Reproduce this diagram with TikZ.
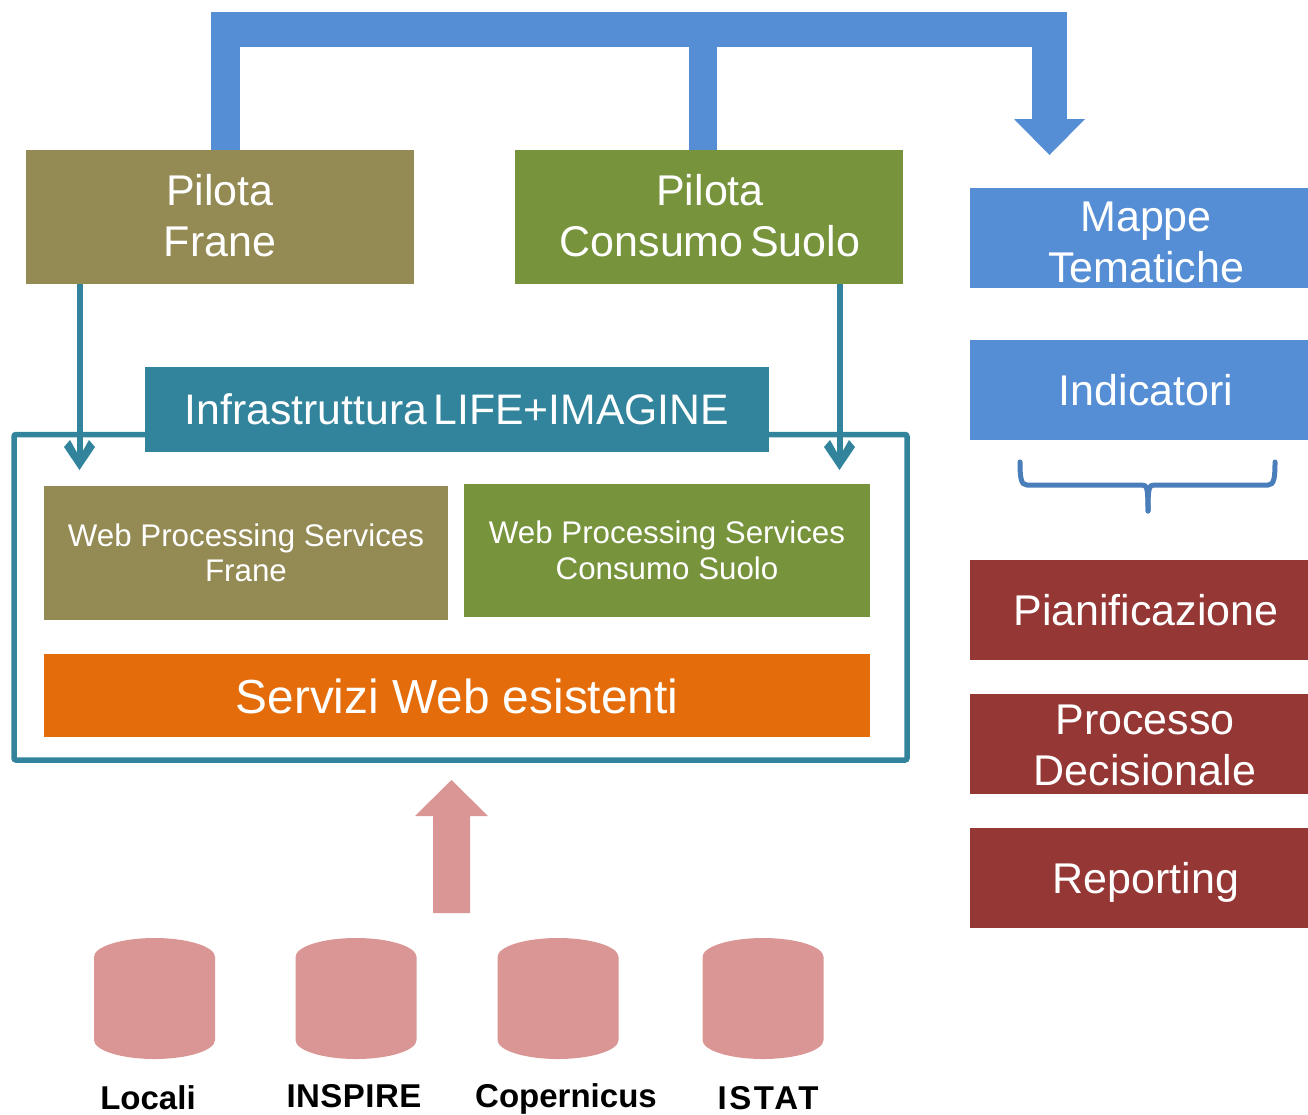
\documentclass[tikz,border=0pt]{standalone}
\usepackage{fontspec}
\setmainfont{Liberation Sans}
\newfontfamily\tightf[WordSpace=0.55]{Liberation Sans}
\usetikzlibrary{calc}
\definecolor{olivebox}{HTML}{948A54}
\definecolor{greenbox}{HTML}{77933C}
\definecolor{bluebox}{HTML}{558ED5}
\definecolor{redbox}{HTML}{953735}
\definecolor{tealbox}{HTML}{31849B}
\definecolor{orangebox}{HTML}{E46C0A}
\definecolor{pinkbox}{HTML}{D99694}
\definecolor{bracecol}{HTML}{4A7EBB}
\tikzset{
 x=1pt,y=-1pt,
 box/.style={anchor=north west,inner sep=0pt,outer sep=0pt,align=center,text=white,draw=none},
 big/.style={box,font=\tightf\fontsize{43}{51}\selectfont},
 wps/.style={box,font=\fontsize{31.3}{35.5}\selectfont},
 side/.style={big,minimum width=352pt,minimum height=100.5pt},
 sidetext/.style={big,anchor=center},
 db/.style={inner sep=0pt,outer sep=0pt,minimum width=121pt,minimum height=121pt,anchor=north},
 dblabel/.style={inner sep=0pt,anchor=base,font=\bfseries\fontsize{33}{38}\selectfont,text=black},
 thick blue/.style={draw=bluebox,line cap=butt},
 teal arrow/.style={draw=tealbox,line width=6pt},
}
\newcommand{\dbshape}[1]{%
 \fill[pinkbox] (#1.north west) ++(0,19)
  .. controls +(0,-10.5) and +(-33,0) .. ++(60.5,-19)
  .. controls +(33,0) and +(0,-10.5) .. ++(60.5,19)
  -- ++(0,83)
  .. controls +(0,10.5) and +(33,0) .. ++(-60.5,19)
  .. controls +(-33,0) and +(0,10.5) .. ++(-60.5,-19)
  -- cycle;}
\begin{document}
\begin{tikzpicture}
\useasboundingbox (0,0) rectangle (1308,1114);
% frame
\node[draw=tealbox,line width=5.5pt,rounded corners=2pt,anchor=north west,inner sep=0pt,outer sep=0pt,minimum width=893pt,minimum height=325.5pt] (frame) at (14,434.5) {};
% boxes
\node[big,fill=olivebox,minimum width=388pt,minimum height=134pt] (pf) at (26,150) {};
\node[sidetext] (pft) at ([yshift=1pt]pf.center) {Pilota\\Frane};
\node[big,fill=greenbox,minimum width=388pt,minimum height=134pt] (pc) at (515,150) {};
\node[sidetext] (pct) at ([yshift=1pt,xshift=1pt]pc.center) {Pilota\\Consumo Suolo};
\node[big,fill=tealbox,minimum width=624pt,minimum height=85pt,font=\tightf\fontsize{42.7}{51}\selectfont] (infra) at (145,366.5) {Infrastruttura LIFE+IMAGINE};
\node[wps,fill=olivebox,minimum width=404pt,minimum height=134pt] (wf) at (44,486) {Web Processing Services\\Frane};
\node[wps,fill=greenbox,minimum width=406pt,minimum height=133pt] (wc) at (464,484) {Web Processing Services\\Consumo Suolo};
\node[box,fill=orangebox,minimum width=826pt,minimum height=83pt,font=\fontsize{47.8}{52}\selectfont] (sw) at (44,653.5) {};
\node[sidetext,font=\fontsize{47.8}{52}\selectfont] (swt) at ([yshift=-1pt]sw.center) {Servizi Web esistenti};
\node[side,fill=bluebox] (mt) at (970,187.5) {};
\node[sidetext] (mtt) at ([yshift=-4.5pt]mt.center) {Mappe\\Tematiche};
\node[side,fill=bluebox] (ind) at (970,339.5) {Indicatori};
\node[side,fill=redbox] (pian) at (970,559.5) {Pianificazione};
\node[side,fill=redbox] (proc) at (970,693.5) {};
\node[sidetext] (proct) at ([yshift=-2pt,xshift=-1pt]proc.center) {Processo\\Decisionale};
\node[side,fill=redbox] (rep) at (970,827.5) {};
\node[sidetext] (rept) at ([yshift=-4.5pt]rep.center) {Reporting};
% databases
\node[db] (d1) at (154.5,938) {};
\node[db] (d2) at (356,938) {};
\node[db] (d3) at (558,938) {};
\node[db] (d4) at (763,938) {};
\dbshape{d1}\dbshape{d2}\dbshape{d3}\dbshape{d4}
\node[dblabel] (l1) at (148,1109) {Locali};
\node[dblabel] (l2) at (354,1107) {\addfontfeature{LetterSpace=1.5}INSPIRE};
\node[dblabel] (l3) at (566,1107) {Copernicus};
\node[dblabel] (l4) at (768,1109) {\addfontfeature{LetterSpace=8}ISTAT};
% thick blue connector
\coordinate (tl) at (225.5,29.5);
\coordinate (tm) at (703,29.5);
\coordinate (tr) at (1049.5,29.5);
\coordinate (headbase) at (1049.5,119);
\draw[thick blue,line width=29pt] (pf.north -| tl) -- (tl);
\draw[thick blue,line width=28pt] (pc.north -| tm) -- (tm);
\draw[thick blue,line width=35pt] (211,29.5) -- (tr) -- (headbase);
\fill[bluebox] (1014,119) -- (1085,119) -- (1049.5,155) -- cycle;
% teal arrows
\coordinate (ta1) at (79.5,458);
\coordinate (ta2) at (839.5,458);
\draw[teal arrow] (pf.south -| ta1) -- (ta1);
\draw[teal arrow] (pc.south -| ta2) -- (ta2);
\fill[tealbox] (64,447) -- (70,440) -- (79.5,457) -- (89,440) -- (95,447) -- (79.5,470) -- cycle;
\fill[tealbox] (824,447) -- (830,440) -- (839.5,457) -- (849,440) -- (855,447) -- (839.5,470) -- cycle;
% brace
\coordinate (brm) at (1148,511);
\draw[draw=bracecol,line width=5pt,line cap=round] (1020,462) .. controls (1020,478) and (1021,485) .. (1027,485) -- (1142,485) .. controls (1147,485) and (1148,488) .. (brm);
\draw[draw=bracecol,line width=5pt,line cap=round] (1275,462) .. controls (1275,478) and (1274,485) .. (1268,485) -- (1154,485) .. controls (1149,485) and (1148,488) .. (brm);
% pink arrow
\coordinate (pa) at (451.5,780);
\fill[pinkbox] (433,913) -- (470,913) -- (470,816) -- (488,816) -- (pa) -- (415,816) -- (433,816) -- cycle;
\end{tikzpicture}
\end{document}
